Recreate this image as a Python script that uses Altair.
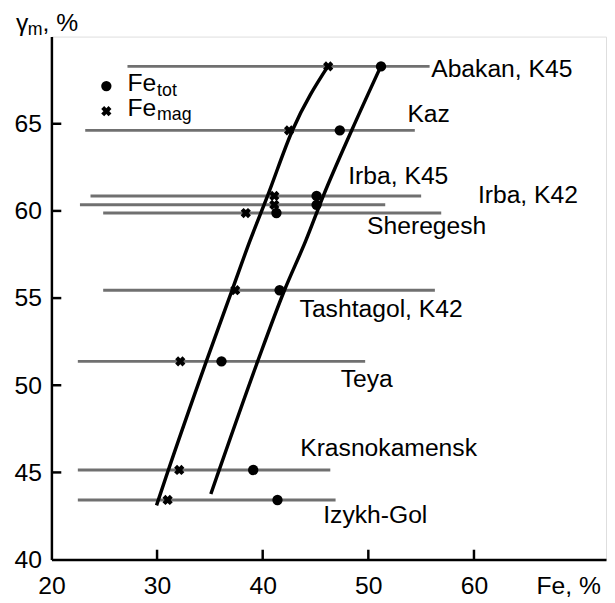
import altair as alt
import pandas as pd

# ---- data ----
deposits = ["Abakan, K45", "Kaz", "Irba, K45", "Irba, K42", "Sheregesh",
            "Tashtagol, K42", "Teya", "Krasnokamensk", "Izykh-Gol"]
gamma_m = [68.29, 64.62, 60.86, 60.35, 59.88, 55.45, 51.37, 45.14, 43.42]
fe_min = [27.2, 23.2, 23.7, 22.7, 24.9, 24.9, 22.5, 22.5, 22.5]
fe_max = [55.8, 54.4, 55.0, 51.6, 56.9, 56.3, 49.7, 46.4, 46.9]
fe_tot = [51.2, 47.3, 45.1, 45.1, 41.3, 41.6, 36.1, 39.1, 41.4]
fe_mag = [46.2, 42.5, 41.1, 41.1, 38.4, 37.4, 32.2, 32.1, 31.0]

label_x = [55.95, 53.7, 48.1, 60.37, 49.88, 43.49, 47.38, 43.55, 45.73]
label_y = [67.69, 65.11, 61.57, 60.44, 58.67, 53.94, 49.9, 45.94, 42.08]

left_x = [29.95, 30.84, 34.67, 37.10, 38.79, 40.47, 42.80, 46.21]
left_y = [43.11, 44.72, 51.38, 55.45, 58.28, 60.88, 64.60, 68.33]
right_x = [35.09, 35.64, 39.53, 42.06, 44.07, 45.75, 48.41, 51.21]
right_y = [43.76, 44.72, 51.38, 55.45, 58.28, 60.88, 64.60, 68.33]

x_ticks = [20, 30, 40, 50, 60]
x_tick_marks = [30, 40, 50, 60]
y_ticks = [40, 45, 50, 55, 60, 65]
y_tick_marks = [45, 50, 55, 60, 65]

legend_names = ["Fe", "Fe"]
legend_subs = ["tot", "mag"]
legend_shapes = ["circle", "cross"]
legend_mx = [25.2, 25.2]
legend_my = [67.16, 65.72]
legend_tx = [27.2, 27.2]
legend_ty = [66.85, 65.47]

FONT = "Liberation Sans"
FS = 25
FS_SUB = 18
GRAY = "#707070"
X_DOM = [20, 72.5]
Y_DOM = [40, 70]

df = pd.DataFrame({"name": deposits, "g": gamma_m, "lo": fe_min, "hi": fe_max,
                   "tot": fe_tot, "mag": fe_mag, "lx": label_x, "ly": label_y})
curves = pd.DataFrame({
    "x": left_x + right_x,
    "y": left_y + right_y,
    "curve": ["left"] * len(left_x) + ["right"] * len(right_x),
})
leg = pd.DataFrame({"name": legend_names, "sub": legend_subs, "shape": legend_shapes,
                    "mx": legend_mx, "my": legend_my, "tx": legend_tx, "ty": legend_ty})
xt = pd.DataFrame({"v": x_tick_marks, "b": [Y_DOM[0]] * len(x_tick_marks)})
yt = pd.DataFrame({"v": y_tick_marks, "b": [X_DOM[0]] * len(y_tick_marks)})

xs = alt.Scale(domain=X_DOM, nice=False, zero=False)
ys = alt.Scale(domain=Y_DOM, nice=False, zero=False)

x_axis = alt.Axis(values=x_ticks, ticks=False, domain=True, domainColor="black",
                  domainWidth=2.5, labelPadding=14,
                  labelFont=FONT, labelFontSize=FS, labelColor="black",
                  grid=False, labelFlush=False, orient="bottom",
                  title="Fe, %", titleFont=FONT, titleFontSize=FS,
                  titleFontWeight="normal", titleColor="black",
                  titleAnchor="start", titleAlign="left", titleX=491,
                  titleY=34.5, titleBaseline="alphabetic")
y_axis = alt.Axis(values=y_ticks, ticks=False, domain=True, domainColor="black",
                  domainWidth=2.5, labelPadding=10,
                  labelFont=FONT, labelFontSize=FS, labelColor="black",
                  grid=False, title=None, labelFlush=False, orient="left")


def X(field):
    return alt.X(field, scale=xs, axis=x_axis)


def Y(field):
    return alt.Y(field, scale=ys, axis=y_axis)


base = alt.Chart(df)

ranges = base.mark_rule(color=GRAY, strokeWidth=3).encode(
    x=X("lo:Q"), x2="hi:Q", y=Y("g:Q"))

# inward tick marks on both axes
x_tick_rules = alt.Chart(xt).mark_rule(color="black", strokeWidth=2.5,
                                       y2Offset=-10).encode(
    x=X("v:Q"), y=Y("b:Q"), y2="b:Q")
y_tick_rules = alt.Chart(yt).mark_rule(color="black", strokeWidth=2.5,
                                       x2Offset=10).encode(
    y=Y("v:Q"), x=X("b:Q"), x2="b:Q")

lines = alt.Chart(curves).mark_line(color="black", strokeWidth=3.5,
                                    interpolate="monotone").encode(
    x=X("x:Q"), y=Y("y:Q"), detail="curve:N", order="y:Q",
)

mag_pts = base.mark_point(shape="cross", angle=45, filled=True, size=110,
                          color="black", opacity=1).encode(x=X("mag:Q"), y=Y("g:Q"))
tot_pts = base.mark_point(shape="circle", filled=True, size=110,
                          color="black", opacity=1).encode(x=X("tot:Q"), y=Y("g:Q"))

labels = base.mark_text(font=FONT, fontSize=FS, align="left", baseline="alphabetic",
                        color="black").encode(x=X("lx:Q"), y=Y("ly:Q"), text="name:N")

leg_pts = alt.Chart(leg).mark_point(filled=True, color="black", opacity=1).encode(
    x=X("mx:Q"), y=Y("my:Q"),
    shape=alt.Shape("shape:N", scale=alt.Scale(domain=["circle", "cross"],
                                               range=["circle", "cross"]), legend=None),
    angle=alt.Angle("shape:N", scale=alt.Scale(domain=["circle", "cross"], range=[0, 45]),
                    legend=None),
    size=alt.Size("shape:N", scale=alt.Scale(domain=["circle", "cross"], range=[110, 110]),
                  legend=None),
)
leg_fe = alt.Chart(leg).mark_text(font=FONT, fontSize=FS, align="left",
                                  baseline="alphabetic", color="black").encode(
    x=X("tx:Q"), y=Y("ty:Q"), text="name:N")
leg_sub = alt.Chart(leg).mark_text(font=FONT, fontSize=FS_SUB, align="left",
                                   baseline="alphabetic", color="black",
                                   dx=30, dy=5).encode(
    x=X("tx:Q"), y=Y("ty:Q"), text="sub:N")

# y-axis title "γm, %" anchored at the top of the y axis
title_df = pd.DataFrame({"x": [X_DOM[0]], "y": [Y_DOM[1]]})
t_gamma = alt.Chart(title_df).mark_text(text="γ", font=FONT, fontSize=FS, align="left",
                                         baseline="alphabetic", dx=-36, dy=-6,
                                         color="black").encode(x=X("x:Q"), y=Y("y:Q"))
t_m = alt.Chart(title_df).mark_text(text="m", font=FONT, fontSize=FS_SUB, align="left",
                                     baseline="alphabetic", dx=-24, dy=-2,
                                     color="black").encode(x=X("x:Q"), y=Y("y:Q"))
t_pct = alt.Chart(title_df).mark_text(text=", %", font=FONT, fontSize=FS, align="left",
                                       baseline="alphabetic", dx=-9, dy=-6,
                                       color="black").encode(x=X("x:Q"), y=Y("y:Q"))

chart = alt.layer(
    ranges, x_tick_rules, y_tick_rules, lines, mag_pts, tot_pts, labels,
    leg_pts, leg_fe, leg_sub, t_gamma, t_m, t_pct,
).properties(
    width=562, height=530,
    autosize=alt.AutoSizeParams(type="none"),
    padding={"left": 44, "top": 25, "right": 1, "bottom": 38},
).configure_view(stroke=None).configure(background="white")

chart.save("out.html", embed_options={"renderer": "svg", "actions": False})
